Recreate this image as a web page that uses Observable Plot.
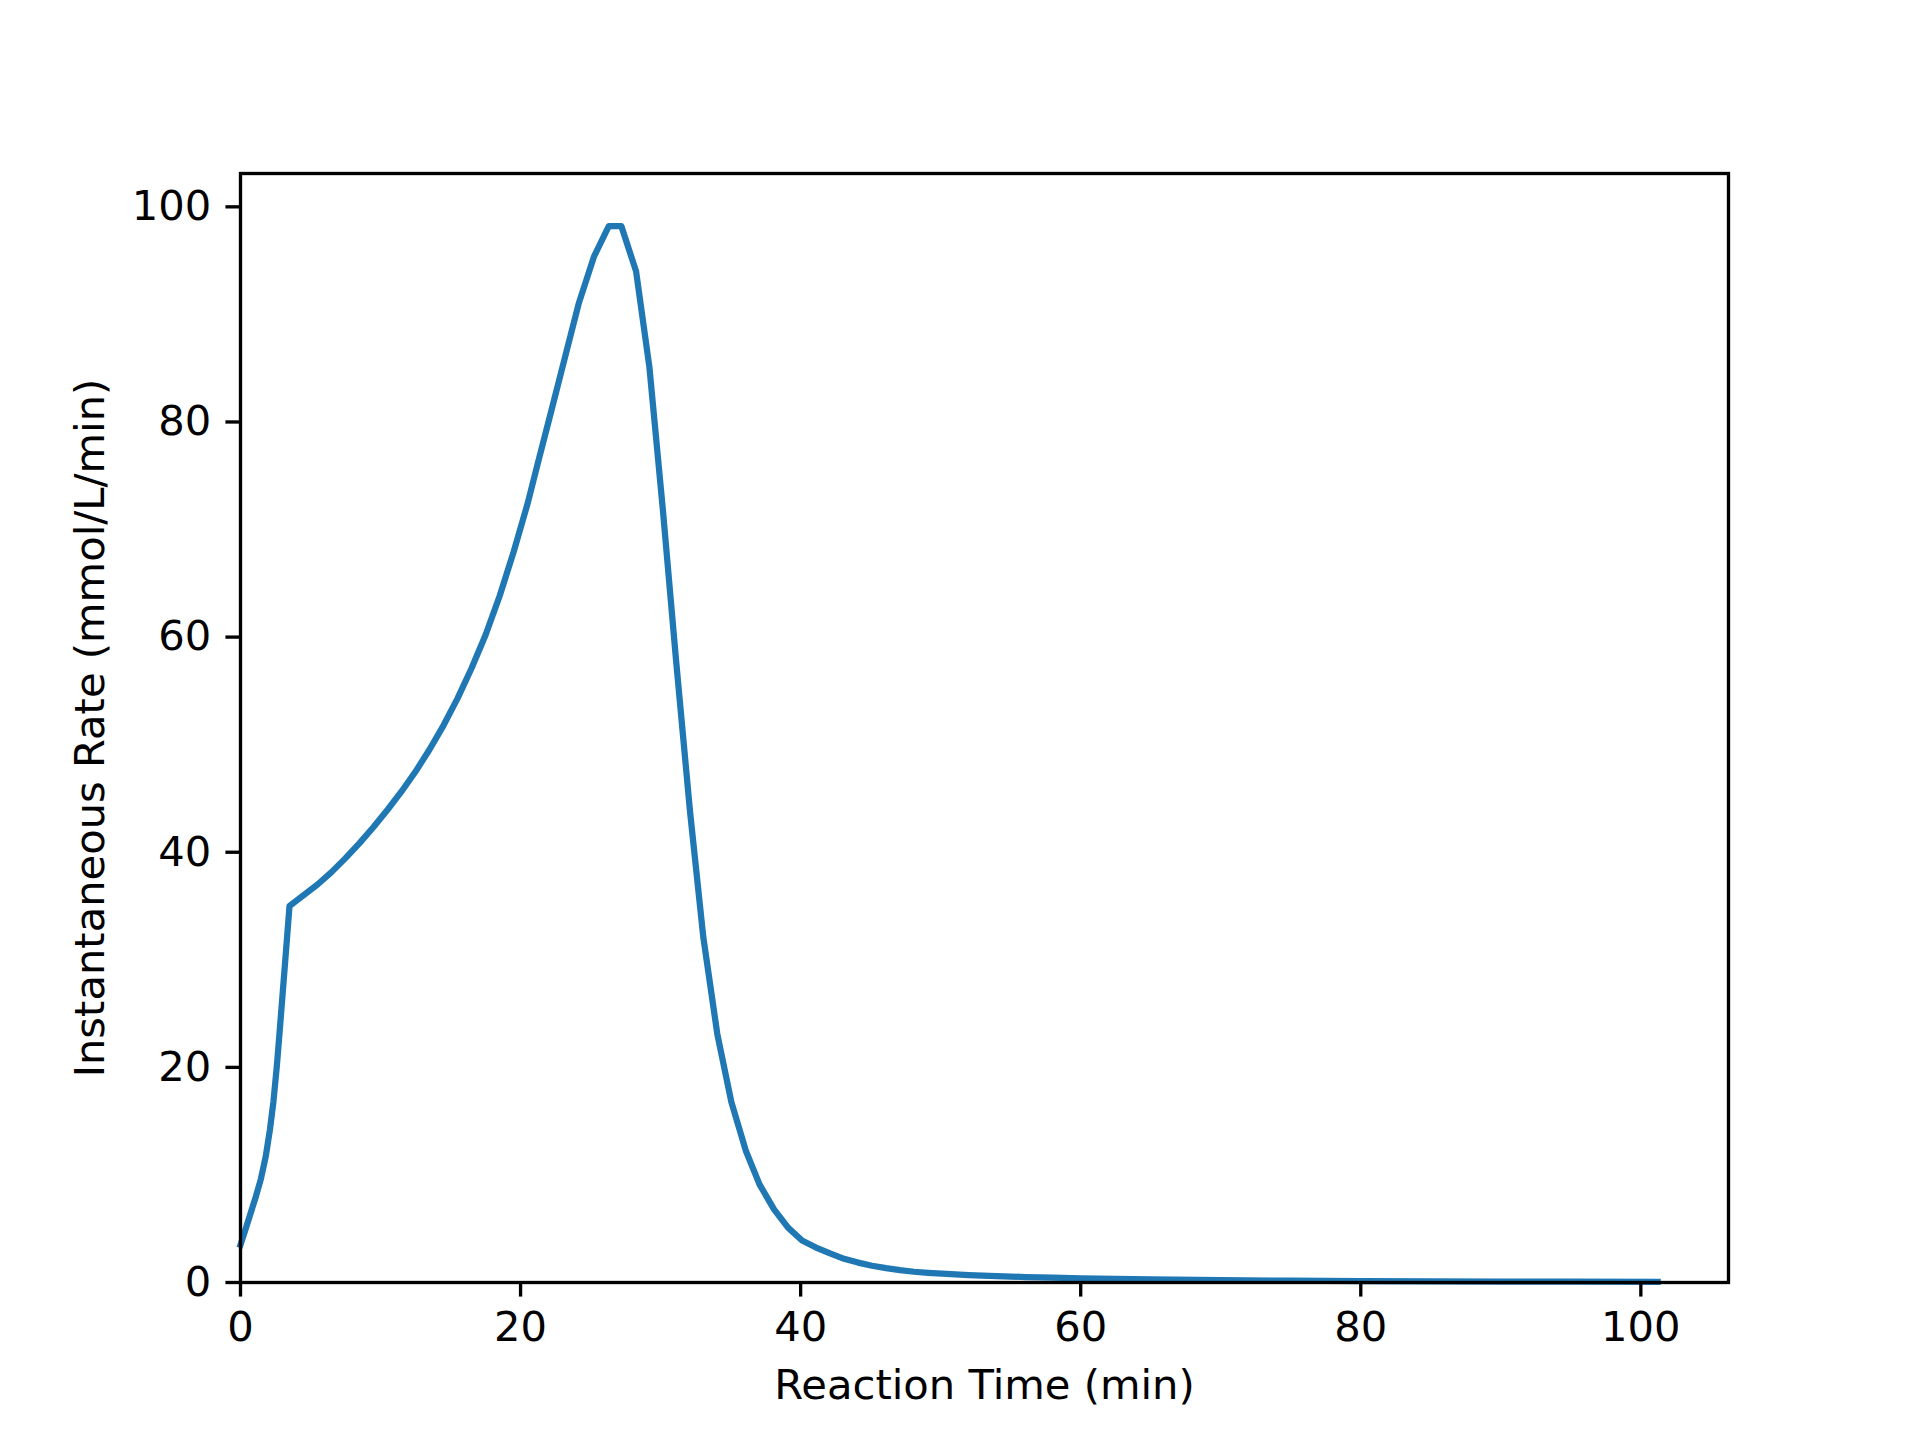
<!DOCTYPE html>
<html>
<head>
<meta charset="utf-8">
<script src="https://cdn.jsdelivr.net/npm/d3@7"></script>
<script src="https://cdn.jsdelivr.net/npm/@observablehq/plot@0.6"></script>
<style>
  html, body { margin: 0; padding: 0; background: #fff; }
  #chart svg { display: block; }
</style>
</head>
<body>
<div id="chart"></div>
<script>
// Reaction time (min)
const time = [
  0, 0.35, 0.7, 1.1, 1.45, 1.8, 2.1, 2.35, 2.6, 2.8, 3.0, 3.2, 3.5,
  4.5, 5.5, 6.5, 7.5, 8.5, 9.5, 10.5, 11.5, 12.5, 13.5, 14.5, 15.5, 16.5, 17.5, 18.5, 19.5, 20.5,
  21.2, 22.15, 23.15, 24.15, 25.25, 26.3, 27.2, 28.25, 29.2, 30.15, 31.1, 32.1, 33.05, 34.05,
  35.05, 36.1, 37.07, 38.1, 39.1, 40.1, 41.1, 42.1, 43.1, 44.1, 45.1, 46.1, 47.1, 48.1, 49.1,
  50.1, 52, 54, 56, 58, 60, 65, 70, 75, 80, 85, 90, 95, 101.2
];
// Instantaneous rate (mmol/L/min)
const rate = [
  3.5, 4.9, 6.35, 8.0, 9.6, 11.7, 14.2, 16.8, 20.2, 23.4, 26.7, 30.0, 35.0,
  36.0, 37.0, 38.15, 39.45, 40.85, 42.35, 43.95, 45.65, 47.5, 49.55, 51.8, 54.3, 57.1, 60.2, 63.8, 67.9, 72.4,
  76.0, 80.8, 85.9, 91.0, 95.4, 98.2, 98.2, 94.0, 85.1, 72.0, 57.9, 43.8, 32.1, 23.1,
  16.8, 12.2, 9.1, 6.8, 5.1, 3.9, 3.25, 2.7, 2.2, 1.85, 1.56, 1.33, 1.15, 1.0, 0.9,
  0.82, 0.69, 0.59, 0.51, 0.45, 0.39, 0.29, 0.22, 0.17, 0.13, 0.11, 0.09, 0.08, 0.07
];
const xTicks = [0, 20, 40, 60, 80, 100];
const yTicks = [0, 20, 40, 60, 80, 100];
const xLabel = "Reaction Time (min)";
const yLabel = "Instantaneous Rate (mmol/L/min)";

const data = time.map((t, i) => ({time: t, rate: rate[i]}));

const FS = 41.67;      // 10pt at 300 dpi
const TICK = 14.58;    // 3.5pt
const LW = 3.33;       // 0.8pt

const chart = Plot.plot({
  width: 1920,
  height: 1440,
  marginLeft: 240,
  marginRight: 192,
  marginTop: 173,
  marginBottom: 158,
  style: {fontFamily: "DejaVu Sans, sans-serif", fontSize: FS + "px", color: "black", background: "white"},
  x: {domain: [0, 106.26]},
  y: {domain: [0, 103.1]},
  marks: [
    Plot.line(data, {x: "time", y: "rate", stroke: "#1f77b4", strokeWidth: 6.25, strokeLinejoin: "round", strokeLinecap: "square"}),
    Plot.frame({stroke: "black", strokeWidth: LW}),
    Plot.axisX({ticks: xTicks, tickSize: TICK, tickPadding: TICK, strokeWidth: LW, fontSize: FS, label: null, tickFormat: d => String(d)}),
    Plot.axisY({ticks: yTicks, tickSize: TICK, tickPadding: TICK, strokeWidth: LW, fontSize: FS, label: null, tickFormat: d => String(d)}),
    Plot.text([xLabel], {text: d => d, frameAnchor: "bottom", dy: 103, fontSize: FS, textAnchor: "middle", lineAnchor: "middle", fill: "black"}),
    Plot.text([yLabel], {text: d => d, frameAnchor: "left", dx: -150, rotate: -90, fontSize: FS, textAnchor: "middle", lineAnchor: "middle", fill: "black"})
  ]
});
document.getElementById("chart").appendChild(chart);
</script>
</body>
</html>
